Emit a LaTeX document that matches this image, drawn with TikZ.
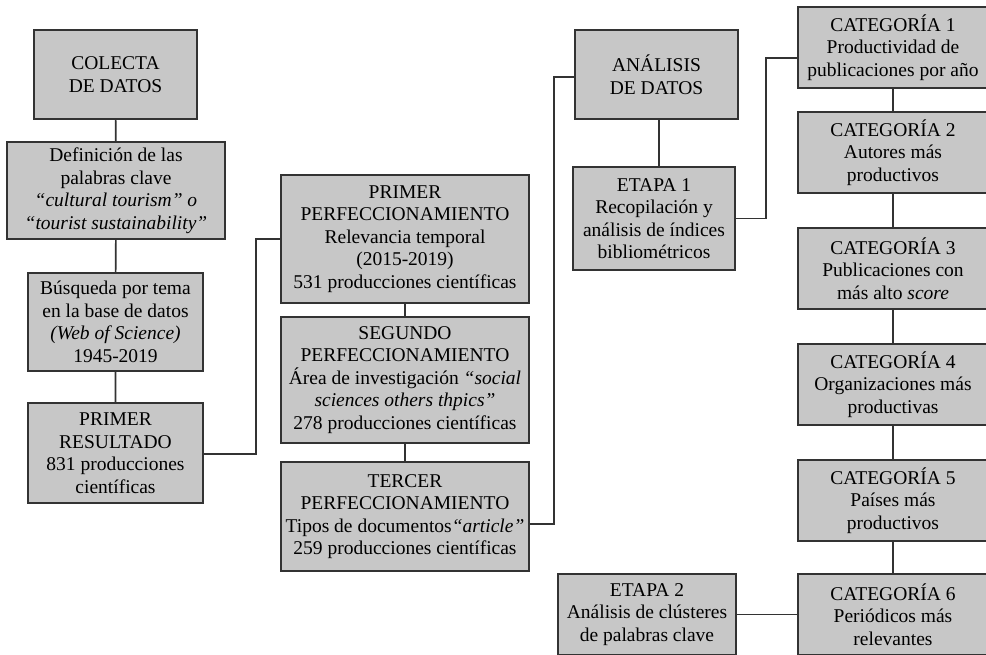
\documentclass[tikz,border=0pt]{standalone}
\usepackage{fontspec}
\setmainfont{Liberation Serif}
\begin{document}
\begin{tikzpicture}[x=1pt,y=-1pt,
	caja/.style={draw=black!80,fill=black!22,line width=1.6pt,align=center,inner sep=0pt,font=\fontsize{19.5}{22.5}\selectfont},
	linea/.style={line width=1.6pt,draw=black!80}]
		\clip (0,0) rectangle (986,654);
		% colecta
		\node[caja,minimum width=163,minimum height=89] (colecta) at (115.5,74.5) {COLECTA\\DE DATOS};
		\node[caja,minimum width=218,minimum height=97] (defin) at (116,190.5) {Definición de las\\palabras clave\\\textit{“cultural tourism” o}\\\textit{“tourist sustainability”}};
		\node[caja,minimum width=175,minimum height=98] (busq) at (115.5,322) {Búsqueda por tema\\en la base de datos\\\textit{(Web of Science)}\\1945-2019};
		\node[caja,minimum width=175,minimum height=100] (res1) at (115.5,453) {PRIMER\\RESULTADO\\831 producciones\\científicas};
		% perfeccionamientos
		\node[caja,minimum width=248,minimum height=128] (perf1) at (405,239) {PRIMER\\PERFECCIONAMIENTO\\Relevancia temporal\\(2015-2019)\\531 producciones científicas};
		\node[caja,minimum width=248,minimum height=126] (perf2) at (405,380) {SEGUNDO\\PERFECCIONAMIENTO\\Área de investigación \textit{“social}\\\textit{sciences others thpics”}\\278 producciones científicas};
		\node[caja,minimum width=248,minimum height=109] (perf3) at (405,516.5) {TERCER\\PERFECCIONAMIENTO\\Tipos de documentos\textit{“article”}\\259 producciones científicas};
		% analisis
		\node[caja,minimum width=163,minimum height=89] (analisis) at (656.5,74.5) {ANÁLISIS\\DE DATOS};
		\node[caja,minimum width=162,minimum height=103] (etapa1) at (654,218.5) {ETAPA 1\\Recopilación y\\análisis de índices\\bibliométricos};
		\node[caja,minimum width=178,minimum height=81] (etapa2) at (647,614.5) {ETAPA 2\\Análisis de clústeres\\de palabras clave};
		% categorias
		\node[caja,minimum width=190,minimum height=81] (cat1) at (893,47.5) {CATEGORÍA 1\\Productividad de\\publicaciones por año};
		\node[caja,minimum width=190,minimum height=81] (cat2) at (893,152.5) {CATEGORÍA 2\\Autores más\\productivos};
		\node[caja,minimum width=190,minimum height=81] (cat3) at (893,268.5) {CATEGORÍA 3\\Publicaciones con\\más alto \textit{score}};
		\node[caja,minimum width=190,minimum height=81] (cat4) at (893,384.5) {CATEGORÍA 4\\Organizaciones más\\productivas};
		\node[caja,minimum width=190,minimum height=81] (cat5) at (893,500.5) {CATEGORÍA 5\\Países más\\productivos};
		\node[caja,minimum width=190,minimum height=81] (cat6) at (893,614.5) {CATEGORÍA 6\\Periódicos más\\relevantes};
		% conectores
		\draw[linea] (colecta)--(defin) (defin)--(busq) (busq)--(res1);
		\draw[linea] (res1.east)++(0,1)--++(52,0) |- (perf1.west);
		\draw[linea] (perf1)--(perf2) (perf2)--(perf3);
		\draw[linea] (perf3.east)++(0,7.5)--++(24,0) |- ([yshift=-2.5pt]analisis.west);
		\draw[linea] ([xshift=2.5pt]analisis.south)--([xshift=2.5pt]analisis.south |- etapa1.north);
		\draw[linea] (etapa1.east)--++(30,0) |- ([yshift=-10.5pt]cat1.west);
		\draw[linea] (cat1)--(cat2) (cat2)--(cat3) (cat3)--(cat4) (cat4)--(cat5) (cat5)--(cat6);
		\draw[linea] (etapa2)--(cat6);
\end{tikzpicture}
\end{document}
